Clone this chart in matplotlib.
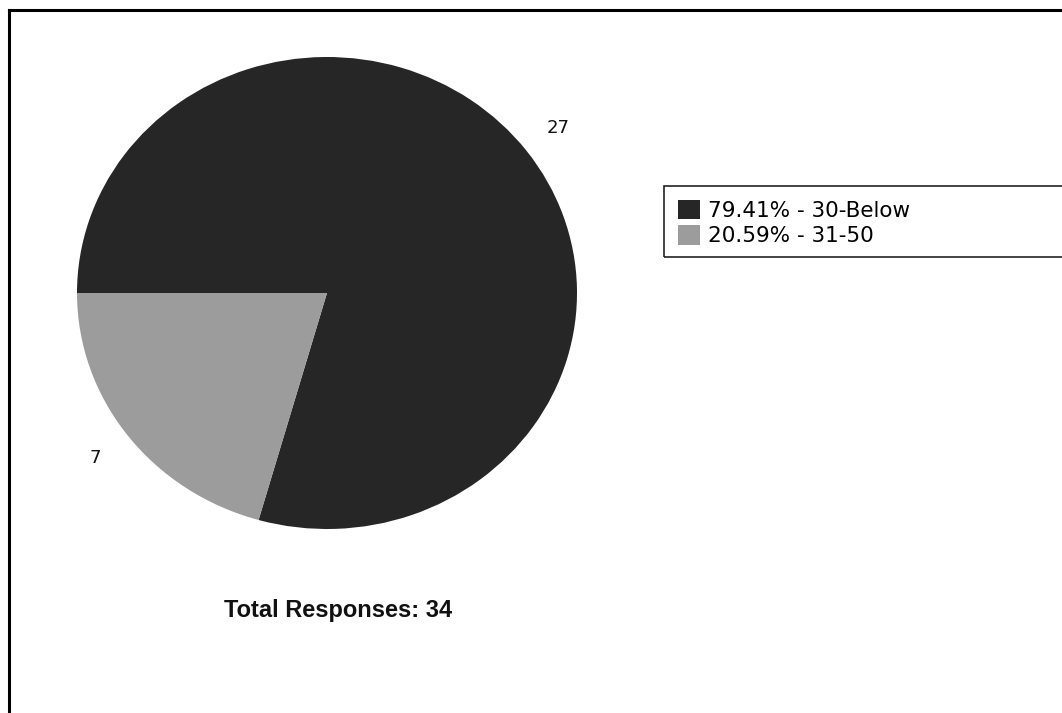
import matplotlib.pyplot as plt
from matplotlib.patches import Rectangle
from matplotlib.lines import Line2D

# data
categories = ['30-Below', '31-50']
counts = [27, 7]
colors = ['#262626', '#9c9c9c']
total = sum(counts)

W, H = 1062, 713
fig = plt.figure(figsize=(W / 100, H / 100), dpi=100)
fig.patch.set_facecolor('white')

# pie area in pixels: center (327, 293), rx 250, ry 236
cx, cy, rx, ry = 327, 293, 250, 236
ax = fig.add_axes([(cx - rx) / W, 1 - (cy + ry) / H, 2 * rx / W, 2 * ry / H])
wedges, texts = ax.pie(counts, colors=colors, startangle=180, counterclock=False,
                       labels=[str(c) for c in counts], labeldistance=1.16,
                       textprops=dict(fontsize=13, family='DejaVu Sans', color='#111111'),
                       wedgeprops=dict(linewidth=0), frame=False)
for t in texts:
    t.set_ha('center')
    t.set_va('center')
ax.set_aspect('auto')
ax.set_xlim(-1, 1)
ax.set_ylim(-1, 1)
ax.axis('off')

# legend
pct = [f'{c / total * 100:.2f}% - {n}' for c, n in zip(counts, categories)]
leg = fig.legend(wedges, pct, loc='upper left', bbox_to_anchor=(678 / W, 1 - 200 / H),
                 frameon=False, prop=dict(family='DejaVu Sans', size=15.5),
                 handlelength=1.0, handleheight=1.0, handletextpad=0.4,
                 labelspacing=0.2, borderpad=0, borderaxespad=0)
fig.add_artist(Rectangle((664 / W, 1 - 257 / H), 420 / W, 71 / H, transform=fig.transFigure,
                         fill=False, edgecolor='#222222', linewidth=1.2))

fig.text(338 / W, 1 - 610 / H, f'Total Responses: {total}', ha='center', va='center',
         fontsize=17, fontweight='bold', family='Liberation Sans', color='#111111')

# outer frame (left and top only visible)
fig.add_artist(Line2D([8.5 / W, 8.5 / W], [0, 1 - 9.5 / H], transform=fig.transFigure,
                      color='black', linewidth=2.2))
fig.add_artist(Line2D([8.5 / W, 1], [1 - 9.5 / H, 1 - 9.5 / H], transform=fig.transFigure,
                      color='black', linewidth=2.2))

fig.savefig('out.png', dpi=100)
